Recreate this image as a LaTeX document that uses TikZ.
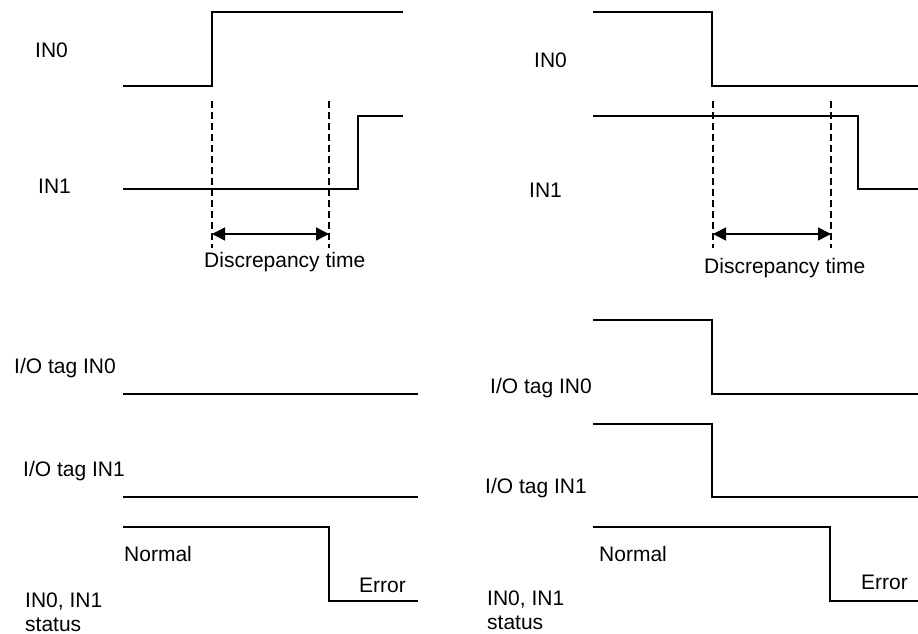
\documentclass[tikz,border=0pt]{standalone}
\usepackage{fontspec}
\setmainfont{Liberation Sans}
\usetikzlibrary{arrows.meta}
\begin{document}
\begin{tikzpicture}[x=1pt,y=-1pt,
  wave/.style={line width=1.6pt, line join=miter},
  guide/.style={line width=1.4pt, dash pattern=on 7pt off 4pt},
  span/.style={line width=1.6pt, {Triangle[length=13pt,width=13pt]}-{Triangle[length=13pt,width=13pt]}},
  lbl/.style={anchor=base west, inner sep=0pt, font=\fontsize{21}{25}\selectfont}]
\useasboundingbox (0,0) rectangle (918,634);
% ---------------- left panel ----------------
\node[lbl] (lin0) at (35,58) {IN0};
\node[lbl] (lin1) at (38,193) {IN1};
\coordinate (a0) at (123,86); \coordinate (a1) at (212,86);
\coordinate (a2) at (212,12); \coordinate (a3) at (403,12);
\draw[wave] (a0) -- (a1) -- (a2) -- (a3);
\coordinate (b0) at (123,189); \coordinate (b1) at (358,189);
\coordinate (b2) at (358,116); \coordinate (b3) at (403,116);
\draw[wave] (b0) -- (b1) -- (b2) -- (b3);
\coordinate (d1t) at (212,101); \coordinate (d1b) at (212,248);
\coordinate (d2t) at (329,101); \coordinate (d2b) at (329,248);
\draw[guide] (d1t) -- (d1b);
\draw[guide] (d2t) -- (d2b);
\coordinate (ar1) at (212,234); \coordinate (ar2) at (329,234);
\draw[span] (ar1) -- (ar2);
\node[lbl] (ldt) at (204,267) {Discrepancy time};
\node[lbl] (ltag0) at (14,373) {I/O tag IN0};
\coordinate (t0a) at (123,394); \coordinate (t0b) at (418,394);
\draw[wave] (t0a) -- (t0b);
\node[lbl] (ltag1) at (23,476) {I/O tag IN1};
\coordinate (t1a) at (123,497); \coordinate (t1b) at (418,497);
\draw[wave] (t1a) -- (t1b);
\coordinate (s0) at (123,527); \coordinate (s1) at (329,527);
\coordinate (s2) at (329,601); \coordinate (s3) at (418,601);
\draw[wave] (s0) -- (s1) -- (s2) -- (s3);
\node[lbl] (lnorm) at (124,561) {Normal};
\node[lbl] (lerr) at (359,592) {Error};
\node[lbl] (lst1) at (25,607) {IN0, IN1};
\node[lbl] (lst2) at (25,631) {status};
% ---------------- right panel ----------------
\node[lbl] (rin0) at (534,67) {IN0};
\node[lbl] (rin1) at (529,197) {IN1};
\coordinate (c0) at (593,12); \coordinate (c1) at (712,12);
\coordinate (c2) at (712,86); \coordinate (c3) at (918,86);
\draw[wave] (c0) -- (c1) -- (c2) -- (c3);
\coordinate (e0) at (593,116); \coordinate (e1) at (858,116);
\coordinate (e2) at (858,189); \coordinate (e3) at (918,189);
\draw[wave] (e0) -- (e1) -- (e2) -- (e3);
\coordinate (f1t) at (713,101); \coordinate (f1b) at (713,248);
\coordinate (f2t) at (831,101); \coordinate (f2b) at (831,248);
\draw[guide] (f1t) -- (f1b);
\draw[guide] (f2t) -- (f2b);
\coordinate (br1) at (713,234); \coordinate (br2) at (831,234);
\draw[span] (br1) -- (br2);
\node[lbl] (rdt) at (704,273) {Discrepancy time};
\coordinate (u0a) at (593,320); \coordinate (u0b) at (712,320);
\coordinate (u0c) at (712,394); \coordinate (u0d) at (918,394);
\draw[wave] (u0a) -- (u0b) -- (u0c) -- (u0d);
\node[lbl] (rtag0) at (490,393) {I/O tag IN0};
\coordinate (u1a) at (593,424); \coordinate (u1b) at (712,424);
\coordinate (u1c) at (712,497); \coordinate (u1d) at (918,497);
\draw[wave] (u1a) -- (u1b) -- (u1c) -- (u1d);
\node[lbl] (rtag1) at (485,493) {I/O tag IN1};
\coordinate (v0) at (593,527); \coordinate (v1) at (830,527);
\coordinate (v2) at (830,601); \coordinate (v3) at (918,601);
\draw[wave] (v0) -- (v1) -- (v2) -- (v3);
\node[lbl] (rnorm) at (599,561) {Normal};
\node[lbl] (rerr) at (861,589) {Error};
\node[lbl] (rst1) at (487,605) {IN0, IN1};
\node[lbl] (rst2) at (487,629) {status};
\end{tikzpicture}
\end{document}
